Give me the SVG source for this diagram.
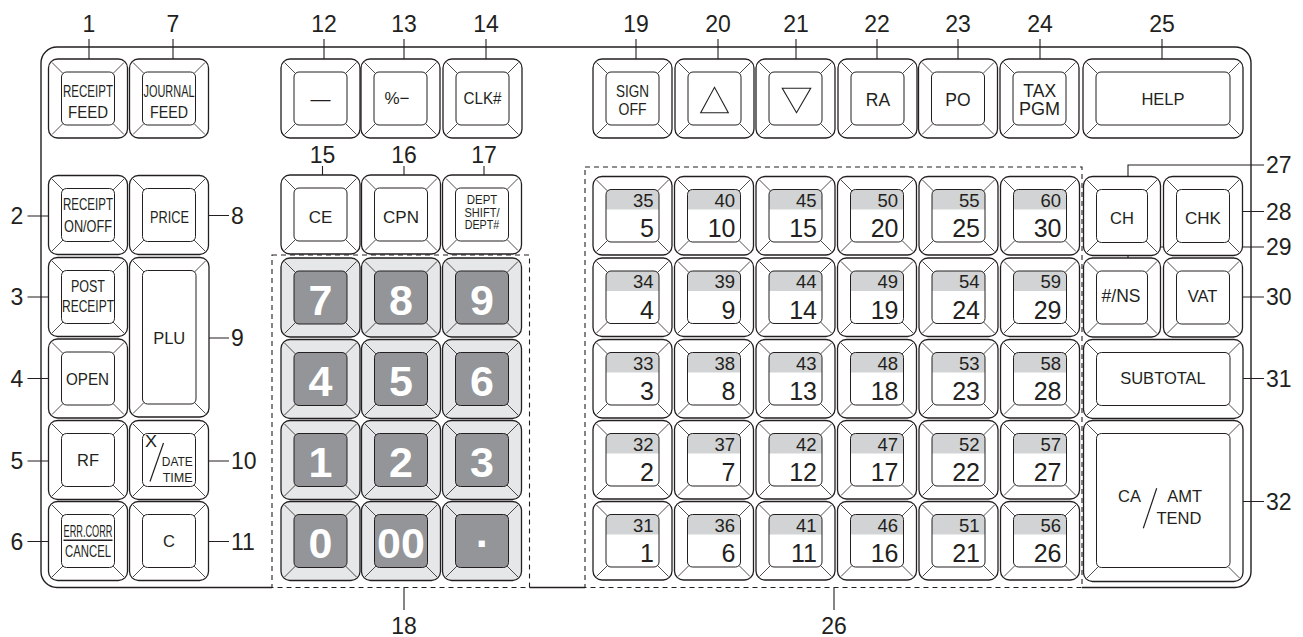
<svg xmlns="http://www.w3.org/2000/svg" width="1303" height="637" viewBox="0 0 1303 637">
<style>
.o{fill:#fff;stroke:#231f20;stroke-width:1.3}
.i{fill:#fff;stroke:#231f20;stroke-width:1}
.in{fill:none;stroke:#231f20;stroke-width:1}
.dg{stroke:#231f20;stroke-width:0.8;fill:none}
.no{fill:#e6e7e8;stroke:#231f20;stroke-width:1.3}
.ni{fill:#939598;stroke:#231f20;stroke-width:1}
.band{fill:#d1d3d4}
.ln{stroke:#231f20;stroke-width:1.1;fill:none}
.dash{fill:none;stroke:#231f20;stroke-width:1.1;stroke-dasharray:5 4}
.frame{fill:none;stroke:#231f20;stroke-width:1.4}
text{font-family:"Liberation Sans",Arial,sans-serif;fill:#231f20}
.k{font-size:16.5px;text-anchor:middle}
.ks{font-size:16.5px}
.nd{font-size:43px;font-weight:bold;fill:#fff;text-anchor:middle}
.top{font-size:18.5px;text-anchor:end}
.bot{font-size:25px;text-anchor:end}
.lb{font-size:23px;text-anchor:middle}
.lbs{font-size:23px}
.sm{font-size:13.5px;text-anchor:middle}
.sms{font-size:13.5px}
</style>
<defs>
<g id="k"><rect class="o" x="0" y="0" width="79" height="79" rx="9"/><rect class="i" x="13" y="13" width="53" height="53" rx="5"/><path class="dg" d="M3.5,3.5L14.5,14.5M75.5,3.5L64.5,14.5M3.5,75.5L14.5,64.5M75.5,75.5L64.5,64.5"/></g>
<g id="kn"><rect class="no" x="0" y="0" width="79" height="79" rx="9"/><rect class="ni" x="13" y="13" width="53" height="53" rx="5"/><path class="dg" d="M3.5,3.5L14.5,14.5M75.5,3.5L64.5,14.5M3.5,75.5L14.5,64.5M75.5,75.5L64.5,64.5"/></g>
<g id="kd"><rect class="o" x="0" y="0" width="79" height="78.5" rx="9"/><rect fill="#fff" x="13" y="13" width="53" height="52.5" rx="5"/><path class="band" d="M13,33V18A5,5 0 0 1 18,13H61A5,5 0 0 1 66,18V33Z"/><rect class="in" x="13" y="13" width="53" height="52.5" rx="5"/><path class="dg" d="M3.5,3.5L14.5,14.5M75.5,3.5L64.5,14.5M3.5,75L14.5,64M75.5,75L64.5,64"/></g>
</defs>

<g id="panel">
<path class="frame" d="M272,587.5H57A16,16 0 0 1 41,571.5V63A16,16 0 0 1 57,47H1235A16,16 0 0 1 1251,63V571.5A16,16 0 0 1 1235,587.5H1082M529.5,587.5H585"/>
<rect id="numeric-group" class="dash" x="272" y="255" width="257.5" height="332.5"/>
<rect id="dept-group" class="dash" x="585" y="167" width="497" height="420.5"/>
</g>

<g id="connectors">
<path class="ln" d="M89,39V72M173,39V72M324,39V72M404,39V72M486,39V72M636,39V72M718,39V72M796,39V72M877,39V72M958,39V72M1040,39V72M1162,39V72"/>
<path class="ln" d="M322.5,166V188M404,166V188M484,166V188"/>
<path class="ln" d="M27.5,216H61.5M27.5,297H61.5M27.5,378.5H61.5M27.5,461H61.5M27.5,541.5H61.5"/>
<path class="ln" d="M196,215.5H229M196,338H229M196,461H229M196,541.5H229"/>
<path class="ln" d="M1128,189.5V165H1264M1230,211.5H1264M1128,271V247H1264M1230,297H1264M1230,378.5H1264M1230,501.5H1264"/>
<path class="ln" d="M404,588V610M834,588V610"/>
</g>

<g id="labels">
<text class="lb" x="89" y="31.5">1</text>
<text class="lb" x="173" y="31.5">7</text>
<text class="lb" x="324" y="31.5">12</text>
<text class="lb" x="404" y="31.5">13</text>
<text class="lb" x="486" y="31.5">14</text>
<text class="lb" x="636" y="31.5">19</text>
<text class="lb" x="718" y="31.5">20</text>
<text class="lb" x="796" y="31.5">21</text>
<text class="lb" x="877" y="31.5">22</text>
<text class="lb" x="958" y="31.5">23</text>
<text class="lb" x="1040" y="31.5">24</text>
<text class="lb" x="1162" y="31.5">25</text>
<text class="lb" x="322.5" y="163">15</text>
<text class="lb" x="404" y="163">16</text>
<text class="lb" x="484" y="163">17</text>
<text class="lb" x="17" y="224.2">2</text>
<text class="lb" x="17" y="305.2">3</text>
<text class="lb" x="17" y="386.7">4</text>
<text class="lb" x="17" y="469.2">5</text>
<text class="lb" x="17" y="549.7">6</text>
<text class="lbs" x="231" y="223.7">8</text>
<text class="lbs" x="231" y="346.2">9</text>
<text class="lbs" x="231" y="469.2">10</text>
<text class="lbs" x="231" y="549.7">11</text>
<text class="lbs" x="1266" y="173.2">27</text>
<text class="lbs" x="1266" y="219.7">28</text>
<text class="lbs" x="1266" y="255.2">29</text>
<text class="lbs" x="1266" y="305.2">30</text>
<text class="lbs" x="1266" y="386.7">31</text>
<text class="lbs" x="1266" y="509.7">32</text>
<text class="lb" x="404" y="634">18</text>
<text class="lb" x="834" y="634">26</text>
</g>

<g id="key-1"><use href="#k" x="48.5" y="59"/><text class="k" x="88" y="97" textLength="50" lengthAdjust="spacingAndGlyphs">RECEIPT</text><text class="k" x="88" y="118" textLength="40" lengthAdjust="spacingAndGlyphs">FEED</text></g>
<g id="key-7"><use href="#k" x="129.5" y="59"/><text class="k" x="169" y="97" textLength="51" lengthAdjust="spacingAndGlyphs">JOURNAL</text><text class="k" x="169" y="118" textLength="38" lengthAdjust="spacingAndGlyphs">FEED</text></g>
<g id="key-2"><use href="#k" x="48.5" y="175.5"/><text class="k" x="88" y="209.5" textLength="50" lengthAdjust="spacingAndGlyphs">RECEIPT</text><text class="k" x="88" y="232" textLength="48" lengthAdjust="spacingAndGlyphs">ON/OFF</text></g>
<g id="key-3"><use href="#k" x="48.5" y="257.5"/><text class="k" x="88" y="291.5" textLength="34" lengthAdjust="spacingAndGlyphs">POST</text><text class="k" x="88" y="311.5" textLength="52" lengthAdjust="spacingAndGlyphs">RECEIPT</text></g>
<g id="key-4"><use href="#k" x="48.5" y="339"/><text class="k" x="87.5" y="384.5" textLength="43" lengthAdjust="spacingAndGlyphs">OPEN</text></g>
<g id="key-5"><use href="#k" x="48.5" y="420.5"/><text class="k" x="88" y="466">RF</text></g>
<g id="key-6"><use href="#k" x="48.5" y="501.5"/><text class="k" x="88" y="536.5" textLength="49" lengthAdjust="spacingAndGlyphs">ERR.CORR</text><path d="M63.5,540.3H112.5" stroke="#231f20" stroke-width="1.6"/><text class="k" x="88" y="556.5" textLength="46" lengthAdjust="spacingAndGlyphs">CANCEL</text></g>
<g id="key-8"><use href="#k" x="129.5" y="175.5"/><text class="k" x="169.5" y="223" textLength="39" lengthAdjust="spacingAndGlyphs">PRICE</text></g>
<g id="key-9"><rect class="o" x="129.5" y="257.5" width="79.5" height="159.5" rx="9"/><rect class="i" x="142.5" y="270.5" width="53.5" height="133.5" rx="5"/><path class="dg" d="M133,261L144,272M205.5,261L194.5,272M133,413.5L144,402.5M205.5,413.5L194.5,402.5"/><text class="k" x="169.2" y="343.5">PLU</text></g>
<g id="key-10"><use href="#k" x="129.5" y="420.5"/><text class="ks" x="145" y="446.5" textLength="12" lengthAdjust="spacingAndGlyphs">X</text><path d="M150,481.5L163.5,443" stroke="#231f20" stroke-width="1.2"/><text class="sms" x="161.8" y="466" textLength="31" lengthAdjust="spacingAndGlyphs">DATE</text><text class="sms" x="162.7" y="481.5" textLength="30" lengthAdjust="spacingAndGlyphs">TIME</text></g>
<g id="key-11"><use href="#k" x="129.5" y="501.5"/><text class="k" x="169" y="547">C</text></g>

<g id="key-12"><use href="#k" x="281" y="59"/><text class="k" x="320.5" y="106" style="font-size:20px">—</text></g>
<g id="key-13"><use href="#k" x="361" y="59"/><text class="k" x="397" y="104" style="font-size:17px">%−</text></g>
<g id="key-14"><use href="#k" x="443" y="59"/><text class="k" x="482.5" y="104" textLength="38" lengthAdjust="spacingAndGlyphs">CLK#</text></g>
<g id="key-15"><use href="#k" x="281" y="175"/><text class="k" x="320.5" y="222.5" style="font-size:17px">CE</text></g>
<g id="key-16"><use href="#k" x="361.5" y="175"/><text class="k" x="401" y="222.5" style="font-size:17px">CPN</text></g>
<g id="key-17"><use href="#k" x="442.5" y="175"/><text class="sm" x="482" y="204" textLength="30.5" lengthAdjust="spacingAndGlyphs">DEPT</text><text class="sm" x="482" y="216.5" textLength="35" lengthAdjust="spacingAndGlyphs">SHIFT/</text><text class="sm" x="482" y="229" textLength="34.5" lengthAdjust="spacingAndGlyphs">DEPT#</text></g>

<g id="key-18-numeric">
<g id="num-7"><use href="#kn" x="281" y="258"/><text class="nd" x="320.5" y="314.5">7</text></g>
<g id="num-8"><use href="#kn" x="361.5" y="258"/><text class="nd" x="401" y="314.5">8</text></g>
<g id="num-9"><use href="#kn" x="442.5" y="258"/><text class="nd" x="482" y="314.5">9</text></g>
<g id="num-4"><use href="#kn" x="281" y="339.5"/><text class="nd" x="320.5" y="396">4</text></g>
<g id="num-5"><use href="#kn" x="361.5" y="339.5"/><text class="nd" x="401" y="396">5</text></g>
<g id="num-6"><use href="#kn" x="442.5" y="339.5"/><text class="nd" x="482" y="396">6</text></g>
<g id="num-1"><use href="#kn" x="281" y="420.5"/><text class="nd" x="320.5" y="477">1</text></g>
<g id="num-2"><use href="#kn" x="361.5" y="420.5"/><text class="nd" x="401" y="477">2</text></g>
<g id="num-3"><use href="#kn" x="442.5" y="420.5"/><text class="nd" x="482" y="477">3</text></g>
<g id="num-0"><use href="#kn" x="281" y="501.5"/><text class="nd" x="320.5" y="558">0</text></g>
<g id="num-00"><use href="#kn" x="361.5" y="501.5"/><text class="nd" x="401" y="558">00</text></g>
<g id="num-dot"><use href="#kn" x="442.5" y="501.5"/><text class="nd" x="483" y="558">·</text></g>
</g>

<g id="key-19"><use href="#k" x="593" y="59"/><text class="k" x="632.5" y="96.5" style="font-size:17px" textLength="33" lengthAdjust="spacingAndGlyphs">SIGN</text><text class="k" x="632.5" y="115" style="font-size:17px" textLength="28" lengthAdjust="spacingAndGlyphs">OFF</text></g>
<g id="key-20"><use href="#k" x="675" y="59"/><path d="M700.7,112.7H728.3L714.5,87.3Z" fill="none" stroke="#231f20" stroke-width="1.1"/></g>
<g id="key-21"><use href="#k" x="756" y="59"/><path d="M782.3,88.3H810.7L796.5,112.7Z" fill="none" stroke="#231f20" stroke-width="1.1"/></g>
<g id="key-22"><use href="#k" x="838" y="59"/><text class="k" x="878" y="106" style="font-size:17.5px">RA</text></g>
<g id="key-23"><use href="#k" x="918.5" y="59"/><text class="k" x="958" y="106" style="font-size:17.5px">PO</text></g>
<g id="key-24"><use href="#k" x="1000" y="59"/><text class="k" x="1039.7" y="96.5" style="font-size:17.5px">TAX</text><text class="k" x="1039.5" y="115" style="font-size:18px">PGM</text></g>
<g id="key-25"><rect class="o" x="1083" y="59" width="160" height="79" rx="9"/><rect class="i" x="1096" y="72" width="134" height="53" rx="5"/><path class="dg" d="M1086.5,62.5L1097.5,73.5M1239.5,62.5L1228.5,73.5M1086.5,134.5L1097.5,123.5M1239.5,134.5L1228.5,123.5"/><text class="k" x="1163" y="105">HELP</text></g>

<g id="key-26-dept">
<g id="dept-5"><use href="#kd" x="593" y="176.5"/><text class="top" x="653.5" y="206.5">35</text><text class="bot" x="654" y="237">5</text></g>
<g id="dept-4"><use href="#kd" x="593" y="258"/><text class="top" x="653.5" y="288">34</text><text class="bot" x="654" y="318.5">4</text></g>
<g id="dept-3"><use href="#kd" x="593" y="339.5"/><text class="top" x="653.5" y="369.5">33</text><text class="bot" x="654" y="400">3</text></g>
<g id="dept-2"><use href="#kd" x="593" y="420.5"/><text class="top" x="653.5" y="450.5">32</text><text class="bot" x="654" y="481">2</text></g>
<g id="dept-1"><use href="#kd" x="593" y="501.5"/><text class="top" x="653.5" y="531.5">31</text><text class="bot" x="654" y="562">1</text></g>
<g id="dept-10"><use href="#kd" x="674.5" y="176.5"/><text class="top" x="735" y="206.5">40</text><text class="bot" x="735.5" y="237">10</text></g>
<g id="dept-9"><use href="#kd" x="674.5" y="258"/><text class="top" x="735" y="288">39</text><text class="bot" x="735.5" y="318.5">9</text></g>
<g id="dept-8"><use href="#kd" x="674.5" y="339.5"/><text class="top" x="735" y="369.5">38</text><text class="bot" x="735.5" y="400">8</text></g>
<g id="dept-7"><use href="#kd" x="674.5" y="420.5"/><text class="top" x="735" y="450.5">37</text><text class="bot" x="735.5" y="481">7</text></g>
<g id="dept-6"><use href="#kd" x="674.5" y="501.5"/><text class="top" x="735" y="531.5">36</text><text class="bot" x="735.5" y="562">6</text></g>
<g id="dept-15"><use href="#kd" x="756" y="176.5"/><text class="top" x="816.5" y="206.5">45</text><text class="bot" x="817" y="237">15</text></g>
<g id="dept-14"><use href="#kd" x="756" y="258"/><text class="top" x="816.5" y="288">44</text><text class="bot" x="817" y="318.5">14</text></g>
<g id="dept-13"><use href="#kd" x="756" y="339.5"/><text class="top" x="816.5" y="369.5">43</text><text class="bot" x="817" y="400">13</text></g>
<g id="dept-12"><use href="#kd" x="756" y="420.5"/><text class="top" x="816.5" y="450.5">42</text><text class="bot" x="817" y="481">12</text></g>
<g id="dept-11"><use href="#kd" x="756" y="501.5"/><text class="top" x="816.5" y="531.5">41</text><text class="bot" x="817" y="562">11</text></g>
<g id="dept-20"><use href="#kd" x="837.5" y="176.5"/><text class="top" x="898" y="206.5">50</text><text class="bot" x="898.5" y="237">20</text></g>
<g id="dept-19"><use href="#kd" x="837.5" y="258"/><text class="top" x="898" y="288">49</text><text class="bot" x="898.5" y="318.5">19</text></g>
<g id="dept-18"><use href="#kd" x="837.5" y="339.5"/><text class="top" x="898" y="369.5">48</text><text class="bot" x="898.5" y="400">18</text></g>
<g id="dept-17"><use href="#kd" x="837.5" y="420.5"/><text class="top" x="898" y="450.5">47</text><text class="bot" x="898.5" y="481">17</text></g>
<g id="dept-16"><use href="#kd" x="837.5" y="501.5"/><text class="top" x="898" y="531.5">46</text><text class="bot" x="898.5" y="562">16</text></g>
<g id="dept-25"><use href="#kd" x="919" y="176.5"/><text class="top" x="979.5" y="206.5">55</text><text class="bot" x="980" y="237">25</text></g>
<g id="dept-24"><use href="#kd" x="919" y="258"/><text class="top" x="979.5" y="288">54</text><text class="bot" x="980" y="318.5">24</text></g>
<g id="dept-23"><use href="#kd" x="919" y="339.5"/><text class="top" x="979.5" y="369.5">53</text><text class="bot" x="980" y="400">23</text></g>
<g id="dept-22"><use href="#kd" x="919" y="420.5"/><text class="top" x="979.5" y="450.5">52</text><text class="bot" x="980" y="481">22</text></g>
<g id="dept-21"><use href="#kd" x="919" y="501.5"/><text class="top" x="979.5" y="531.5">51</text><text class="bot" x="980" y="562">21</text></g>
<g id="dept-30"><use href="#kd" x="1000.5" y="176.5"/><text class="top" x="1061" y="206.5">60</text><text class="bot" x="1061.5" y="237">30</text></g>
<g id="dept-29"><use href="#kd" x="1000.5" y="258"/><text class="top" x="1061" y="288">59</text><text class="bot" x="1061.5" y="318.5">29</text></g>
<g id="dept-28"><use href="#kd" x="1000.5" y="339.5"/><text class="top" x="1061" y="369.5">58</text><text class="bot" x="1061.5" y="400">28</text></g>
<g id="dept-27"><use href="#kd" x="1000.5" y="420.5"/><text class="top" x="1061" y="450.5">57</text><text class="bot" x="1061.5" y="481">27</text></g>
<g id="dept-26"><use href="#kd" x="1000.5" y="501.5"/><text class="top" x="1061" y="531.5">56</text><text class="bot" x="1061.5" y="562">26</text></g>
</g>

<g id="key-27"><rect class="o" x="1083.5" y="176.5" width="77" height="79" rx="9"/><rect class="i" x="1096.5" y="189.5" width="51" height="53" rx="5"/><path class="dg" d="M1087,180L1098,191M1157,180L1146,191M1087,252L1098,241M1157,252L1146,241"/><text class="k" x="1122" y="223.5">CH</text></g>
<g id="key-28"><use href="#k" x="1163.5" y="176.5"/><text class="k" x="1203" y="223.5" style="font-size:17px">CHK</text></g>
<g id="key-29"><rect class="o" x="1083.5" y="258" width="77" height="79" rx="9"/><rect class="i" x="1096.5" y="271" width="51" height="53" rx="5"/><path class="dg" d="M1087,261.5L1098,272.5M1157,261.5L1146,272.5M1087,333.5L1098,322.5M1157,333.5L1146,322.5"/><text class="k" x="1121" y="302" style="font-size:17.5px">#/NS</text></g>
<g id="key-30"><use href="#k" x="1163.5" y="258"/><text class="k" x="1202.5" y="302">VAT</text></g>
<g id="key-31"><rect class="o" x="1083.5" y="339.5" width="159.5" height="79" rx="9"/><rect class="i" x="1096.5" y="352.5" width="133.5" height="53" rx="5"/><path class="dg" d="M1087,343L1098,354M1239.5,343L1228.5,354M1087,415L1098,404M1239.5,415L1228.5,404"/><text class="k" x="1163" y="384">SUBTOTAL</text></g>
<g id="key-32"><rect class="o" x="1083.5" y="420.5" width="159.5" height="161" rx="9"/><rect class="i" x="1096.5" y="433.5" width="133.5" height="134" rx="5"/><path class="dg" d="M1087,424L1098,435M1239.5,424L1228.5,435M1087,578L1098,567M1239.5,578L1228.5,567"/><text class="k" x="1129.5" y="501.5">CA</text><path d="M1143.3,528.3L1156.7,488.3" stroke="#231f20" stroke-width="1.2"/><text class="k" x="1184.7" y="501.5">AMT</text><text class="k" x="1179" y="524">TEND</text></g>
</svg>
